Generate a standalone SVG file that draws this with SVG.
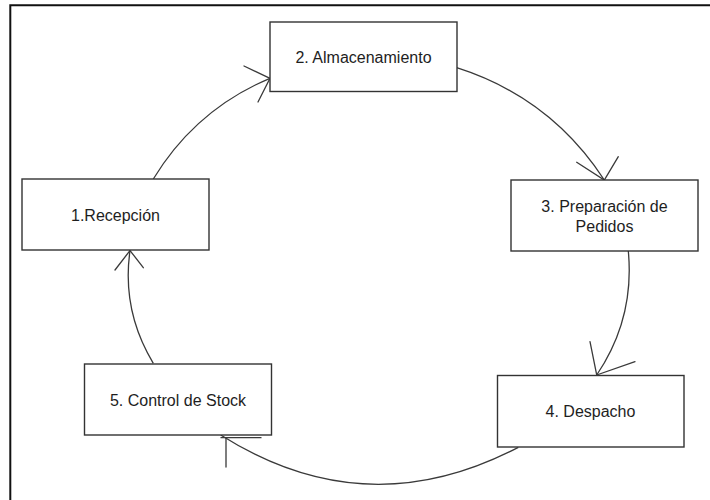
<svg xmlns="http://www.w3.org/2000/svg" width="710" height="500" viewBox="0 0 710 500">
  <style>
    .frame { stroke: #111; stroke-width: 2; fill: none; }
    .box { fill: #fff; stroke: #333; stroke-width: 1.4; }
    .label { font-family: "Liberation Sans", Arial, sans-serif; font-size: 16px; fill: #1e1e1e; text-anchor: middle; }
    .edge { fill: none; stroke: #3a3a3a; stroke-width: 1.3; }
    .head { fill: none; stroke: #3a3a3a; stroke-width: 1.3; stroke-linecap: round; }
  </style>
  <rect width="710" height="500" fill="#fff"/>

  <!-- outer frame (top and left edges) -->
  <path class="frame" d="M10.3 500 V5.3 H710"/>

  <!-- connectors -->
  <g id="connectors">
    <!-- 1 -> 2 -->
    <path class="edge" d="M153.3 179 Q195.6 109.5 270 78.3"/>
    <path class="head" d="M244 66 L270 78.3 L258 102"/>
    <!-- 2 -> 3 -->
    <path class="edge" d="M456.7 67.7 Q550.5 97.5 604.3 180"/>
    <path class="head" d="M576.7 162.3 L604.3 180 L618.3 156.7"/>
    <!-- 3 -> 4 -->
    <path class="edge" d="M628.3 251 Q634.8 318.7 596.7 375"/>
    <path class="head" d="M590 341.7 L596.7 375 L635 361.7"/>
    <!-- 4 -> 5 -->
    <path class="edge" d="M518.3 447.3 Q366 527 220.7 435"/>
    <path class="head" d="M221 437.7 H261 M226 438.5 V467"/>
    <!-- 5 -> 1 -->
    <path class="edge" d="M153.3 363.3 Q121.5 310.8 130 250.5"/>
    <path class="head" d="M115 270 L130 250.5 L143.3 267.7"/>
  </g>

  <g id="node-recepcion">
    <rect class="box" x="22" y="179" width="187" height="71"/>
    <text class="label" x="115.5" y="220.5">1.Recepción</text>
  </g>

  <g id="node-almacenamiento">
    <rect class="box" x="270" y="22" width="187" height="69.5"/>
    <text class="label" x="363.5" y="62.5">2. Almacenamiento</text>
  </g>

  <g id="node-preparacion">
    <rect class="box" x="511" y="180" width="187" height="71"/>
    <text class="label" x="604.5" y="211.5">3. Preparación de</text>
    <text class="label" x="604.5" y="231.5">Pedidos</text>
  </g>

  <g id="node-despacho">
    <rect class="box" x="497.5" y="375.5" width="186.5" height="71.5"/>
    <text class="label" x="590.5" y="417">4. Despacho</text>
  </g>

  <g id="node-control-stock">
    <rect class="box" x="84.5" y="364" width="187" height="71"/>
    <text class="label" x="178" y="405.5">5. Control de Stock</text>
  </g>
</svg>
